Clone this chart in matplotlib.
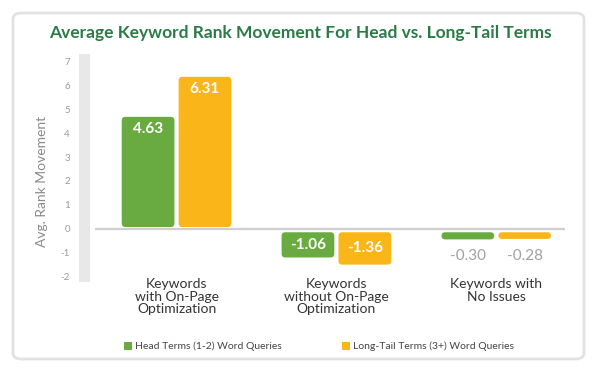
import numpy as np
import matplotlib.pyplot as plt
from matplotlib.patches import FancyBboxPatch, Rectangle

plt.rcParams.update({
    "font.family": ["Lato", "DejaVu Sans"],
})

# === Datos ===
categories = ["Keywords\nwith On-Page\nOptimization",
              "Keywords\nwithout On-Page\nOptimization",
              "Keywords with\nNo Issues"]
head_terms = [4.63, -1.06, -0.30]
long_tail = [6.31, -1.36, -0.28]
series_names = ["Head Terms (1-2) Word Queries", "Long-Tail Terms (3+) Word Queries"]
yticks = list(range(-2, 8))

green = "#6aab41"
orange = "#fab619"
title_green = "#2b7b46"

W, H = 600, 377
fig = plt.figure(figsize=(W / 100, H / 100), dpi=100)

def fx(px):
    return px / W

def fy(py):
    return 1 - py / H

# marco redondeado
frame = FancyBboxPatch((fx(13), fy(359)), fx(571), 346 / H,
                       boxstyle="round,pad=0,rounding_size=0.015",
                       transform=fig.transFigure, facecolor="white",
                       edgecolor="#e2e2e2", linewidth=2, zorder=-5)
fig.patches.append(frame)

fig.text(0.5, fy(33), "Average Keyword Rank Movement For Head vs. Long-Tail Terms",
         ha="center", va="center", fontsize=12.5, fontweight="bold",
         color=title_green)

# eje principal en píxeles: y de 54 a 282, x de 95 a 565
ymin, ymax = -2.21, 7.37
ax = fig.add_axes([fx(95), fy(282), fx(470), (282 - 54) / H])
ax.set_ylim(ymin, ymax)
x = np.arange(len(categories))
ax.set_xlim(-0.51, 2.43)
ax.axis("off")
ax.set_zorder(2)

# banda gris del eje y
band = Rectangle((fx(79), fy(282)), fx(11), (282 - 54) / H,
                 transform=fig.transFigure, facecolor="#e8e8e8",
                 edgecolor="none", zorder=1)
fig.patches.append(band)

# etiquetas de ticks
ax_px_per_unit = (282 - 54) / (ymax - ymin)
for t in yticks:
    py = 282 - (t - ymin) * ax_px_per_unit
    fig.text(fx(70), fy(py), str(t), ha="right", va="center",
             fontsize=7, color="#9a9a9a")

fig.text(fx(42), fy(181), "Avg. Rank Movement", rotation=90,
         ha="center", va="center", fontsize=10, color="#8a8a8a")

# línea cero
ax.axhline(0, color="#cfcfcf", lw=1.6, zorder=2)

bw = 0.33
off = 0.178
gap_pos, gap_neg = 0.1, 0.12
r = 0.022
aspect = (4 / ax_px_per_unit) / r

for vals, col, dx in [(head_terms, green, -off), (long_tail, orange, off)]:
    for xi, v in zip(x, vals):
        if v >= 0:
            y0, h = gap_pos, v
        else:
            y0, h = v - gap_neg, -v
        p = FancyBboxPatch((xi + dx - bw / 2, y0), bw, h,
                           boxstyle=f"round,pad=0,rounding_size={r}",
                           mutation_aspect=aspect, facecolor=col,
                           edgecolor="none", zorder=3)
        ax.add_patch(p)
        if v >= 0:
            ax.text(xi + dx, y0 + h - 0.5, f"{v:.2f}", ha="center", va="center",
                    color="white", fontsize=11, fontweight="bold", zorder=4)
        elif v < -0.5:
            ax.text(xi + dx, y0 + h / 2, f"{v:.2f}", ha="center", va="center",
                    color="white", fontsize=11, fontweight="bold", zorder=4)
        else:
            ax.text(xi + dx, -1.12, f"{v:.2f}", ha="center", va="center",
                    color="#a0a0a0", fontsize=11, zorder=4)

# etiquetas de categorías
for xi, c in zip(x, categories):
    ax.text(xi, -2.05, c, ha="center", va="top", fontsize=10,
            color="#333333", linespacing=1.05)

# leyenda
for px, name, col in [(128, series_names[0], green), (346, series_names[1], orange)]:
    fig.patches.append(Rectangle((fx(px - 4), fy(350)), fx(8), 8 / H,
                                 transform=fig.transFigure, facecolor=col,
                                 edgecolor="none"))
    fig.text(fx(px + 7), fy(346), name, ha="left", va="center",
             fontsize=7.5, color="#444444")

fig.savefig("out.png", dpi=100)
